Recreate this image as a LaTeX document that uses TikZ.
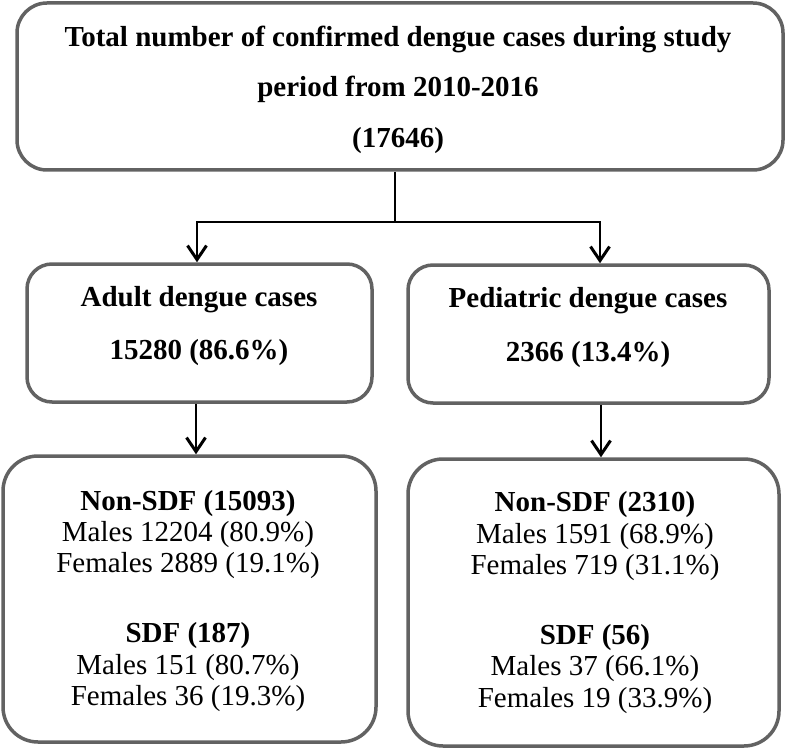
\documentclass[tikz,border=0pt]{standalone}
\usepackage{fontspec}
\setmainfont{Liberation Serif}
\usetikzlibrary{arrows.meta}
\definecolor{boxgray}{RGB}{98,98,98}
\tikzset{
  box/.style={draw=boxgray, line width=3.5pt, fill=white, inner sep=0pt},
  conn/.style={draw=black, line width=2.6pt},
  arr/.style={conn, -{Straight Barb[length=14pt,width=19pt,line width=3pt]}},
  toptext/.style={font=\fontsize{29}{50.5}\selectfont\bfseries, align=center, inner sep=0pt},
  midtext/.style={font=\fontsize{29}{53.5}\selectfont\bfseries, align=center, inner sep=0pt},
  lowtext/.style={font=\fontsize{29}{31.3}\selectfont, align=center, inner sep=0pt}
}
\begin{document}
\begin{tikzpicture}[x=1pt,y=-1pt]
\useasboundingbox (0,0) rectangle (786,751);
% boxes
\node[box, rounded corners=30pt, minimum width=766pt, minimum height=167pt] (top) at (400,86.5) {};
\node[box, rounded corners=25pt, minimum width=345pt, minimum height=138pt] (adult) at (199.5,333) {};
\node[box, rounded corners=25pt, minimum width=361pt, minimum height=138pt] (ped) at (588.5,334) {};
\node[box, rounded corners=35pt, minimum width=373pt, minimum height=286pt] (bl) at (189.5,599) {};
\node[box, rounded corners=35pt, minimum width=371pt, minimum height=287pt] (br) at (593.5,602.5) {};
% texts
\node[toptext] (toptxt) at (398,89.8) {Total number of confirmed dengue cases during study\\ period from 2010-2016\\ (17646)};
\node[midtext] (adulttxt) at (199,326) {Adult dengue cases\\ 15280 (86.6\%)};
\node[midtext] (pedtxt) at (588,327.5) {Pediatric dengue cases\\ 2366 (13.4\%)};
\node[lowtext] (bltxt) at (188,601) {\textbf{Non-SDF (15093)}\\ Males 12204 (80.9\%)\\ Females 2889 (19.1\%)\\[38.7pt] \textbf{SDF (187)}\\ Males 151 (80.7\%)\\ Females 36 (19.3\%)};
\node[lowtext] (brtxt) at (595,602.5) {\textbf{Non-SDF (2310)}\\ Males 1591 (68.9\%)\\ Females 719 (31.1\%)\\[38.7pt] \textbf{SDF (56)}\\ Males 37 (66.1\%)\\ Females 19 (33.9\%)};
% connectors
\coordinate (split) at (395,222);
\coordinate (ax) at (197,0);
\coordinate (px) at (600,0);
\coordinate (bx) at (196,0);
\coordinate (cx) at (601,0);
\draw[conn] (top.south -| split) -- (split);
\draw[arr] (split) -| (adult.north -| ax);
\draw[arr] (split) -| (ped.north -| px);
\draw[arr] (adult.south -| bx) -- (bl.north -| bx);
\draw[arr] (ped.south -| cx) -- (br.north -| cx);
\end{tikzpicture}
\end{document}
